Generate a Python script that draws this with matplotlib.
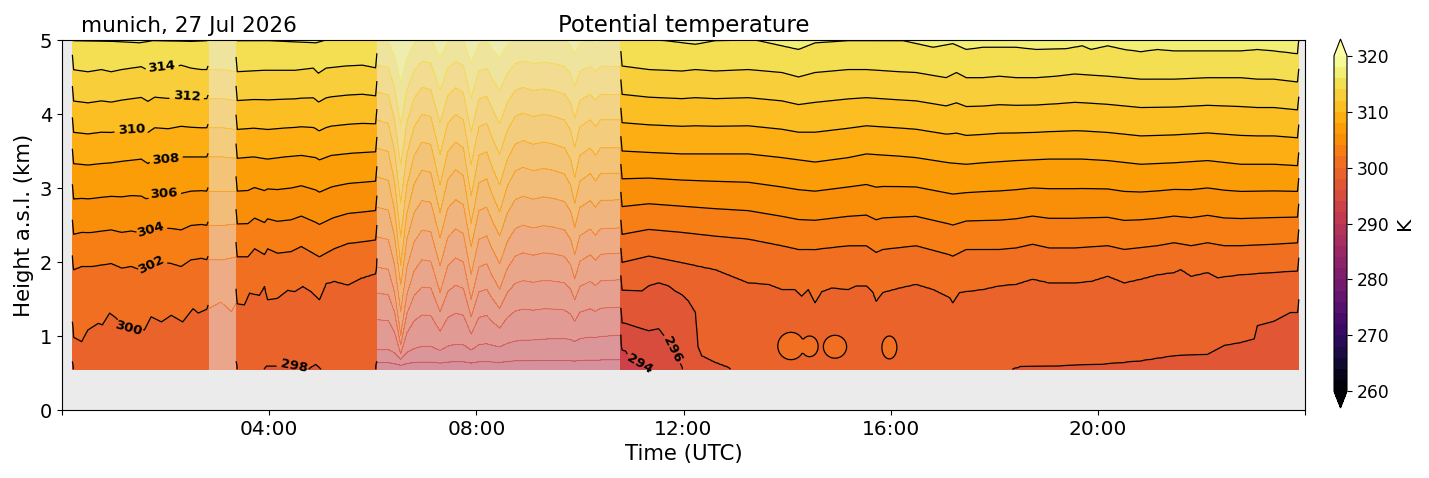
import numpy as np
import matplotlib
matplotlib.use("Agg")
import matplotlib.pyplot as plt
from matplotlib.colors import Normalize

# ---------------- text ----------------
TITLE = "Potential temperature"
SITE_DATE = "munich, 27 Jul 2026"
XLABEL = "Time (UTC)"
YLABEL = "Height a.s.l. (km)"
CBAR_LABEL = "K"
XTICKS = [0, 4, 8, 12, 16, 20, 24]
XTICKLABELS = ["", "04:00", "08:00", "12:00", "16:00", "20:00", ""]

# ---------------- data ----------------
# Heights (km) of isentropes (K) at times (hours UTC).
T316 = [0.2, 1.0, 1.5, 1.75, 2.5, 2.82, 3.1, 3.36, 4.0, 4.9, 5.1, 6.08, 10.79, 11.2, 11.65, 12.23, 12.61, 13.38,
        14.22, 14.54, 15.18, 15.85, 16.24, 16.82, 17.2, 17.46, 17.78, 18.42, 18.81, 19.38, 19.7, 19.87, 20.19,
        20.51, 20.83, 21.15, 21.47, 22.12, 22.76, 23.08, 23.4, 23.88]
Z316 = [4.99, 4.98, 4.96, 4.99, 4.98, 4.99, 5.0, 4.99, 4.99, 4.96, 5.0, 5.0, 5.03, 5.01, 4.99, 4.94, 4.99, 5.0,
        4.87, 4.96, 4.99, 4.99, 4.99, 4.9, 4.95, 4.87, 4.9, 4.9, 4.87, 4.88, 4.92, 4.87, 4.92,
        4.87, 4.84, 4.87, 4.85, 4.85, 4.85, 4.87, 4.85, 4.81]

T314 = [0.2, 0.5, 0.76, 0.95, 1.15, 1.34, 1.53, 1.66, 1.79, 2.05, 2.3, 2.49, 2.69, 2.82, 3.1, 3.36, 3.9, 4.5,
        4.85, 4.95, 5.1, 5.5, 5.8, 6.08, 10.79, 11.33, 11.97, 12.23, 12.61, 13.25, 13.9, 14.22, 14.54, 15.18,
        15.53, 16.17, 16.49, 17.07, 17.27, 17.46, 17.78, 18.1, 18.42, 18.81, 19.19, 19.55, 20.19, 20.83, 21.47,
        22.12, 22.76, 23.08, 23.4, 23.88]
Z314 = [4.6, 4.57, 4.6, 4.57, 4.6, 4.62, 4.64, 4.59, 4.64, 4.62, 4.66, 4.62, 4.6, 4.6, 4.6, 4.57, 4.59, 4.59,
        4.62, 4.55, 4.62, 4.65, 4.66, 4.62, 4.65, 4.6, 4.58, 4.6, 4.58, 4.6, 4.56, 4.5, 4.56, 4.6,
        4.6, 4.57, 4.56, 4.49, 4.56, 4.49, 4.49, 4.51, 4.49, 4.49, 4.51, 4.54, 4.51, 4.47, 4.47,
        4.49, 4.49, 4.47, 4.47, 4.43]

T308 = [0.2, 0.5, 0.76, 0.95, 1.15, 1.4, 1.53, 1.66, 1.79, 2.05, 2.3, 2.55, 2.82, 3.1, 3.36, 3.7, 3.97, 4.3,
        4.62, 4.9, 4.97, 5.2, 5.6, 6.08, 10.79, 11.33, 11.97, 12.61, 13.25, 13.9, 14.22, 14.54, 15.18, 15.53,
        16.17, 16.49, 17.13, 17.46, 17.78, 18.42, 19.06, 19.7, 20.19, 20.83, 21.47, 22.12, 22.76, 23.4, 23.88]
Z308 = [3.33, 3.31, 3.33, 3.34, 3.36, 3.38, 3.39, 3.33, 3.4, 3.39, 3.42, 3.42, 3.42, 3.42, 3.4, 3.42, 3.39, 3.42,
        3.44, 3.41, 3.38, 3.44, 3.47, 3.49, 3.5, 3.48, 3.46, 3.46, 3.46, 3.41, 3.38, 3.35, 3.41, 3.46,
        3.43, 3.41, 3.34, 3.32, 3.34, 3.37, 3.39, 3.39, 3.37, 3.32, 3.34, 3.37, 3.32, 3.32, 3.3]

T302 = [0.2, 0.38, 0.57, 0.76, 0.95, 1.15, 1.34, 1.53, 1.62, 1.72, 1.92, 2.11, 2.3, 2.49, 2.69, 2.82, 3.1, 3.36,
        3.59, 3.72, 3.91, 3.97, 4.16, 4.42, 4.62, 4.97, 5.26, 5.52, 5.77, 6.08, 10.79, 11.33, 11.97, 12.61,
        13.25, 13.9, 14.22, 14.54, 15.18, 15.53, 15.72, 15.85, 16.49, 17.13, 17.2, 17.46, 18.1, 18.42, 18.74,
        19.06, 19.55, 20.19, 20.51, 21.15, 21.47, 21.8, 22.12, 22.44, 22.76, 23.4, 23.88]
Z302 = [1.89, 1.94, 1.94, 1.96, 1.98, 1.92, 1.94, 1.89, 1.87, 1.98, 2.0, 1.98, 1.94, 2.03, 2.05, 2.03, 2.03, 2.07,
        2.07, 2.18, 2.1, 2.18, 2.12, 2.14, 2.21, 2.07, 2.18, 2.25, 2.27, 2.3, 2.37, 2.44, 2.4, 2.35,
        2.31, 2.22, 2.17, 2.17, 2.22, 2.22, 2.13, 2.17, 2.22, 2.1, 2.08, 2.17, 2.17, 2.19, 2.24,
        2.19, 2.19, 2.22, 2.17, 2.22, 2.26, 2.22, 2.26, 2.22, 2.22, 2.24, 2.26]

T300 = [0.2, 0.38, 0.5, 0.7, 0.78, 0.92, 1.05, 1.24, 1.34, 1.59, 1.72, 1.92, 2.11, 2.33, 2.53, 2.63, 2.82, 3.07,
        3.27, 3.36, 3.52, 3.62, 3.81, 3.91, 3.97, 4.16, 4.36, 4.49, 4.65, 4.81, 4.97, 5.1, 5.26, 5.52, 5.77,
        6.08, 10.79, 11.33, 11.97, 12.61, 13.25, 13.64, 13.9, 14.15, 14.28, 14.41, 14.54, 14.67, 14.86, 15.18,
        15.34, 15.53, 15.66, 15.72, 15.85, 16.17, 16.49, 16.82, 17.14, 17.2, 17.33, 17.78, 18.1, 18.42, 18.74,
        19.06, 19.55, 19.87, 20.19, 20.51, 20.83, 21.15, 21.47, 21.6, 21.8, 22.12, 22.31, 22.76, 23.4, 23.88]
Z300 = [0.99, 0.92, 1.08, 1.17, 1.15, 1.31, 1.24, 1.08, 1.15, 1.08, 1.26, 1.19, 1.28, 1.19, 1.37, 1.31, 1.37, 1.46,
        1.33, 1.44, 1.42, 1.58, 1.55, 1.67, 1.49, 1.51, 1.62, 1.6, 1.67, 1.6, 1.49, 1.71, 1.74, 1.69, 1.78,
        1.85, 1.99, 2.08, 1.99, 1.9, 1.72, 1.7, 1.63, 1.63, 1.54, 1.63, 1.45, 1.6, 1.65, 1.63,
        1.68, 1.68, 1.59, 1.47, 1.59, 1.65, 1.7, 1.63, 1.52, 1.45, 1.59, 1.63, 1.68, 1.7, 1.77,
        1.72, 1.72, 1.74, 1.81, 1.72, 1.77, 1.83, 1.86, 1.9, 1.81, 1.86, 1.79, 1.83, 1.86, 1.88]

T298 = [0.2, 3.36, 3.85, 3.95, 4.5, 4.7, 4.8, 4.9, 5.0, 5.2, 6.08, 10.79, 11.2, 11.33, 11.52, 11.71, 11.84, 11.97,
        12.1, 12.23, 12.28, 12.35, 12.61, 12.87, 13.1, 17.9, 18.5, 19.55, 20.19, 20.83, 21.47, 22.12, 22.44,
        22.76, 23.02, 23.08, 23.4, 23.72, 23.88]
Z298 = [0.45, 0.45, 0.5, 0.59, 0.59, 0.5, 0.57, 0.61, 0.55, 0.45, 0.45, 1.62, 1.61, 1.68, 1.72, 1.68, 1.61, 1.56,
        1.47, 1.32, 0.85, 0.73, 0.64, 0.57, 0.45, 0.45, 0.58, 0.6, 0.62, 0.66, 0.73, 0.75, 0.87,
        0.91, 0.96, 1.14, 1.2, 1.32, 1.32]

T296 = [0.2, 6.08, 10.79, 10.88, 11.1, 11.33, 11.52, 11.65, 11.8, 11.97, 12.05, 23.88]
Z296 = [0.3, 0.3, 1.18, 1.17, 1.12, 1.07, 1.1, 0.98, 0.8, 0.58, 0.3, 0.3]

T294 = [0.2, 6.08, 10.79, 10.88, 11.0, 11.2, 11.36, 11.45, 23.88]
Z294 = [0.1, 0.1, 0.82, 0.8, 0.66, 0.6, 0.56, 0.3, 0.1]

Z292_CONST = -0.2     # below the lowest range gate all day
Z318_CONST = 5.4      # above the top of the plot all day

# closed 300 K pockets below the 300 K isentrope in the afternoon
ISLAND_T0 = [13.82, 14.27, 14.70, 15.83]
ISLAND_T1 = [14.33, 14.60, 15.15, 16.12]
ISLAND_Z0 = [0.68, 0.72, 0.70, 0.69]
ISLAND_Z1 = [1.05, 1.00, 1.01, 1.00]

# valid observation periods (h) and the rise of the isentropes at their edges (km)
OBS_START = [0.2, 3.36, 10.79]
OBS_END = [2.82, 6.08, 23.88]
EDGE_RISE_START = [0.20, 0.20, 0.20]
EDGE_RISE_END = [0.05, 0.20, 0.18]

# flagged periods (shown translucent)
FLAG_START = [2.82, 6.08]
FLAG_END = [3.36, 10.79]

# flagged period 6.08-10.79 h: isentrope heights at its start and end, and the dips
GAP_LEVELS = [290, 292, 294, 296, 298, 300, 302, 304, 306, 308, 310, 312, 314, 316, 318]
GAP_Z_START = [0.30, 0.64, 0.81, 1.22, 1.58, 1.93, 2.34, 2.74, 3.15, 3.54, 3.92, 4.30, 4.66, 5.00, 5.40]
GAP_Z_END = [0.30, 0.68, 1.01, 1.39, 1.76, 2.12, 2.46, 2.84, 3.20, 3.54, 3.92, 4.26, 4.64, 5.00, 5.40]
GAP_DIP_WEIGHT = [0.0, 0.03, 0.12, 0.40, 0.60, 0.79, 0.85, 0.88, 1.0, 1.0, 0.93, 0.82, 0.67, 0.48, 0.35]
GAP_T = [6.08, 6.3, 6.42, 6.54, 6.66, 6.8, 6.95, 7.12, 7.3, 7.45, 7.6, 7.75, 7.9, 8.05, 8.2, 8.3, 8.45, 8.6,
         8.75, 8.9, 9.1, 9.3, 9.5, 9.7, 9.82, 9.9, 10.0, 10.2, 10.3, 10.4, 10.79]
GAP_DIP = [0.0, 0.05, 0.45, 1.2, 0.5, 0.1, -0.08, -0.05, 0.5, 0.05, -0.08, 0.0, 0.65, 0.1, 0.05, 0.25, 0.5, 0.15,
           -0.05, -0.1, -0.05, -0.08, -0.05, 0.0, 0.15, 0.4, 0.1, 0.0, 0.1, 0.0, 0.0]

# ---------------- grid construction ----------------
Z_BOTTOM, Z_TOP = 0.55, 5.0
ZG = np.linspace(Z_BOTTOM, Z_TOP, 200)
LEVELS = np.arange(260, 321, 2)
CMAP = "inferno"
NORM = Normalize(260, 320)

OBS_LEVELS = [292, 294, 296, 298, 300, 302, 308, 314, 316, 318]
OBS_SERIES = [(T294, Z294), (T296, Z296), (T298, Z298), (T300, Z300), (T302, Z302),
              (T308, Z308), (T314, Z314), (T316, Z316)]


def columns(t0, t1, extra):
    t = np.concatenate([[t0, t0 + 0.025, t1 - 0.025, t1], np.arange(t0 + 0.05, t1 - 0.04, 0.03),
                        [v for v in extra if t0 < v < t1]])
    return np.unique(np.round(t, 4))


def field_from_heights(heights, levels):
    nlev, nt = heights.shape
    out = np.empty((ZG.size, nt))
    eps = 1e-4 * np.arange(nlev)
    for j in range(nt):
        h = np.maximum.accumulate(heights[:, j]) + eps
        out[:, j] = np.interp(ZG, h, levels)
    return out


def obs_heights(t):
    rows = [np.full(t.shape, Z292_CONST)]
    rows += [np.interp(t, T, H) for T, H in OBS_SERIES]
    rows += [np.full(t.shape, Z318_CONST)]
    return np.array(rows)


all_nodes = sorted(set(T316 + T314 + T308 + T302 + T300 + T298 + T296 + T294))

obs_fields = []
for t0, t1, r0, r1 in zip(OBS_START, OBS_END, EDGE_RISE_START, EDGE_RISE_END):
    t = columns(t0, t1, all_nodes)
    h = obs_heights(t)
    h[1:-1, 0] += r0
    h[1:-1, -1] += r1
    f = field_from_heights(h, OBS_LEVELS)
    TT, ZZ = np.meshgrid(t, ZG)
    for a0, a1, b0, b1 in zip(ISLAND_T0, ISLAND_T1, ISLAND_Z0, ISLAND_Z1):
        if a0 < t0 or a1 > t1:
            continue
        r2 = ((TT - (a0 + a1) / 2) / ((a1 - a0) / 2)) ** 2 + ((ZZ - (b0 + b1) / 2) / ((b1 - b0) / 2)) ** 2
        bump = 300.0 + 1.0 * (1.0 - r2)
        f = np.where(r2 < 1.5, np.maximum(f, bump), f)
    obs_fields.append((t, f))

flag_fields = []
# short flagged period: same isentrope series
t = columns(FLAG_START[0], FLAG_END[0], all_nodes)
flag_fields.append((t, field_from_heights(obs_heights(t), OBS_LEVELS)))
# long flagged period
t = columns(FLAG_START[1], FLAG_END[1], GAP_T)
dip = np.interp(t, GAP_T, GAP_DIP)
hg = np.array([np.interp(t, [FLAG_START[1], FLAG_END[1]], [a, b]) - dip * w
               for a, b, w in zip(GAP_Z_START, GAP_Z_END, GAP_DIP_WEIGHT)])
flag_fields.append((t, field_from_heights(hg, GAP_LEVELS)))

# ---------------- plotting ----------------
W, H = 1429, 478
fig = plt.figure(figsize=(W / 100, H / 100), dpi=100)
ax = fig.add_axes([62 / W, (H - 410) / H, (1305 - 62) / W, 370 / H])
ax.set_facecolor("#ebebeb")

for t, f in flag_fields:
    ax.contourf(t, ZG, f, levels=LEVELS, cmap=CMAP, norm=NORM, extend="both", alpha=0.5)
    ax.contour(t, ZG, f, levels=LEVELS, cmap=CMAP, norm=NORM, linewidths=0.7, alpha=0.4)

mappable = None
obs_cs = []
for t, f in obs_fields:
    mappable = ax.contourf(t, ZG, f, levels=LEVELS, cmap=CMAP, norm=NORM, extend="both")
    cs = ax.contour(t, ZG, f, levels=LEVELS, colors="k", linewidths=0.9)
    obs_cs.append(cs)

LABEL_POS = [
    [(1.30, 1.10), (1.67, 1.98), (1.67, 2.45), (1.96, 2.90), (2.00, 3.40), (1.34, 3.82), (2.40, 4.22), (1.92, 4.62)],
    [(4.48, 0.59)],
    [(11.15, 0.62), (11.88, 0.85)],
]
for cs, pos in zip(obs_cs, LABEL_POS):
    texts = ax.clabel(cs, inline=True, fontsize=9.5, fmt="%d", manual=pos)
    for tx in texts:
        tx.set_fontweight("bold")

ax.set_xlim(0, 24)
ax.set_ylim(0, 5)
ax.set_xticks(XTICKS)
ax.set_xticklabels(XTICKLABELS)
ax.set_yticks([0, 1, 2, 3, 4, 5])
ax.tick_params(axis="x", labelsize=14.5)
ax.tick_params(axis="y", labelsize=14)
ax.set_xlabel(XLABEL, fontsize=15.3)
ax.set_ylabel(YLABEL, fontsize=15.3)
ax.set_title(TITLE, fontsize=16.5, pad=6)
ax.text(0.015, 1.01, SITE_DATE, transform=ax.transAxes, fontsize=15.5, ha="left", va="bottom")

cax = fig.add_axes([1334 / W, (H - 408) / H, 13 / W, 369 / H])
cb = fig.colorbar(mappable, cax=cax, ticks=np.arange(260, 321, 10))
cb.ax.tick_params(labelsize=12.3)
cb.set_label(CBAR_LABEL, fontsize=14.5)

fig.savefig("out.png", dpi=100)
